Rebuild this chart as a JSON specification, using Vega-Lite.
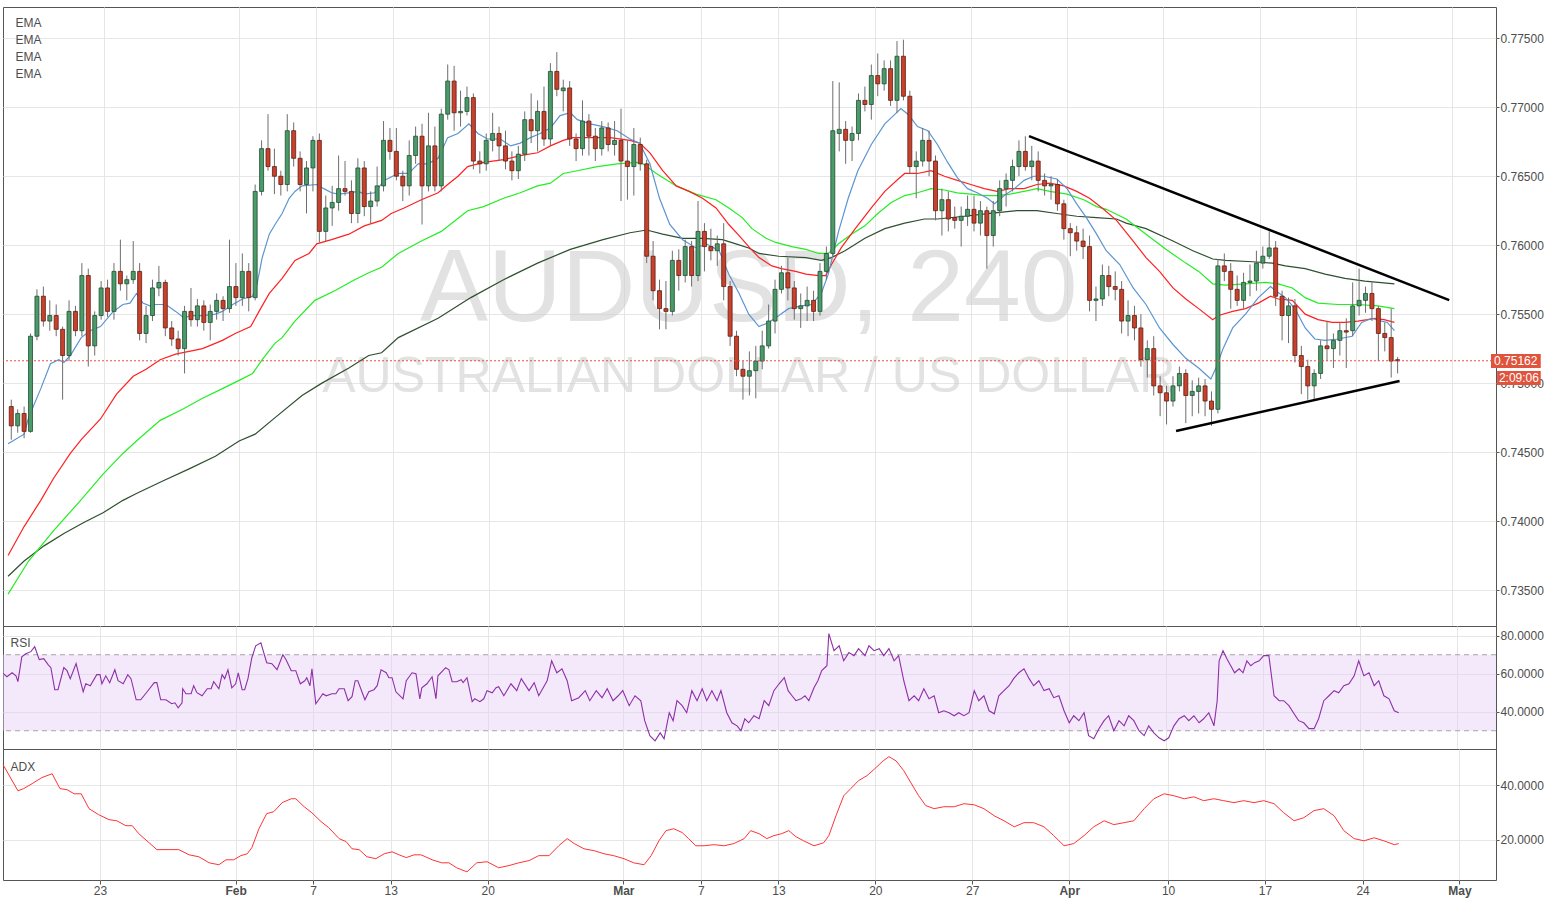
{
"$schema":"https://vega.github.io/schema/vega-lite/v6.json",
"padding":{"left":0,"top":6,"right":2,"bottom":2},
"background":"white",
"spacing":0,
"bounds":"flush",
"config":{"view":{"stroke":"#555555","strokeWidth":1},"font":"Liberation Sans","axis":{"labelFont":"Liberation Sans","labelFontSize":12,"labelColor":"#4d4d4d","gridColor":"#e6e6e6","gridWidth":1,"tickColor":"#555555","domain":false,"zindex":0,"labelOverlap":false,"labelFlush":false}},
"datasets":{
"candles":[
{"i":0,"o":0.7483,"h":0.7488,"l":0.7459,"c":0.7469},{"i":1,"o":0.7469,"h":0.7481,"l":0.7464,"c":0.7478},{"i":2,"o":0.7478,"h":0.7483,"l":0.746,"c":0.7465},{"i":3,"o":0.7465,"h":0.7536,"l":0.7464,"c":0.7534},{"i":4,"o":0.7534,"h":0.7568,"l":0.7531,"c":0.7563},{"i":5,"o":0.7563,"h":0.757,"l":0.7541,"c":0.7545},{"i":6,"o":0.7545,"h":0.756,"l":0.7538,"c":0.7549},{"i":7,"o":0.7549,"h":0.7557,"l":0.7534,"c":0.7539},{"i":8,"o":0.7539,"h":0.7541,"l":0.7488,"c":0.752},{"i":9,"o":0.752,"h":0.756,"l":0.7516,"c":0.7552},
{"i":10,"o":0.7552,"h":0.7556,"l":0.7534,"c":0.7538},{"i":11,"o":0.7538,"h":0.7587,"l":0.7534,"c":0.7578},{"i":12,"o":0.7578,"h":0.7583,"l":0.7512,"c":0.7527},{"i":13,"o":0.7527,"h":0.7552,"l":0.752,"c":0.7549},{"i":14,"o":0.7549,"h":0.7574,"l":0.7546,"c":0.7569},{"i":15,"o":0.7569,"h":0.7575,"l":0.7548,"c":0.7552},{"i":16,"o":0.7552,"h":0.7587,"l":0.7546,"c":0.7581},{"i":17,"o":0.7581,"h":0.7604,"l":0.7567,"c":0.7572},{"i":18,"o":0.7572,"h":0.7578,"l":0.756,"c":0.7575},{"i":19,"o":0.7575,"h":0.7603,"l":0.7572,"c":0.7581},
{"i":20,"o":0.7581,"h":0.7587,"l":0.7531,"c":0.7536},{"i":21,"o":0.7536,"h":0.7556,"l":0.7529,"c":0.7549},{"i":22,"o":0.7549,"h":0.7575,"l":0.7545,"c":0.7569},{"i":23,"o":0.7569,"h":0.7585,"l":0.7563,"c":0.7573},{"i":24,"o":0.7573,"h":0.7575,"l":0.7534,"c":0.754},{"i":25,"o":0.754,"h":0.7545,"l":0.7527,"c":0.7532},{"i":26,"o":0.7532,"h":0.7538,"l":0.752,"c":0.7525},{"i":27,"o":0.7525,"h":0.7556,"l":0.7507,"c":0.7552},{"i":28,"o":0.7552,"h":0.7569,"l":0.7541,"c":0.7546},{"i":29,"o":0.7546,"h":0.7561,"l":0.7541,"c":0.7556},
{"i":30,"o":0.7556,"h":0.756,"l":0.7538,"c":0.7544},{"i":31,"o":0.7544,"h":0.7557,"l":0.7531,"c":0.7552},{"i":32,"o":0.7552,"h":0.7565,"l":0.7546,"c":0.756},{"i":33,"o":0.756,"h":0.7563,"l":0.7545,"c":0.7554},{"i":34,"o":0.7554,"h":0.7604,"l":0.7551,"c":0.757},{"i":35,"o":0.757,"h":0.7587,"l":0.7556,"c":0.7562},{"i":36,"o":0.7562,"h":0.7594,"l":0.7556,"c":0.7581},{"i":37,"o":0.7581,"h":0.7587,"l":0.7552,"c":0.7562},{"i":38,"o":0.7562,"h":0.7644,"l":0.756,"c":0.7639},{"i":39,"o":0.7639,"h":0.7676,"l":0.7636,"c":0.767},
{"i":40,"o":0.767,"h":0.7695,"l":0.7654,"c":0.7657},{"i":41,"o":0.7657,"h":0.767,"l":0.7637,"c":0.765},{"i":42,"o":0.765,"h":0.7654,"l":0.7636,"c":0.7644},{"i":43,"o":0.7644,"h":0.7695,"l":0.7639,"c":0.7683},{"i":44,"o":0.7683,"h":0.7689,"l":0.7657,"c":0.7663},{"i":45,"o":0.7663,"h":0.7668,"l":0.7639,"c":0.7644},{"i":46,"o":0.7644,"h":0.7661,"l":0.7623,"c":0.7656},{"i":47,"o":0.7656,"h":0.7679,"l":0.7639,"c":0.7676},{"i":48,"o":0.7676,"h":0.7681,"l":0.7602,"c":0.761},{"i":49,"o":0.761,"h":0.7636,"l":0.7603,"c":0.7627},
{"i":50,"o":0.7627,"h":0.7643,"l":0.7614,"c":0.7631},{"i":51,"o":0.7631,"h":0.7665,"l":0.7625,"c":0.7641},{"i":52,"o":0.7641,"h":0.7661,"l":0.7636,"c":0.7639},{"i":53,"o":0.7639,"h":0.7647,"l":0.7616,"c":0.7623},{"i":54,"o":0.7623,"h":0.7663,"l":0.7616,"c":0.7656},{"i":55,"o":0.7656,"h":0.7661,"l":0.7621,"c":0.7628},{"i":56,"o":0.7628,"h":0.7639,"l":0.7616,"c":0.7632},{"i":57,"o":0.7632,"h":0.7657,"l":0.7628,"c":0.7643},{"i":58,"o":0.7643,"h":0.769,"l":0.7639,"c":0.7676},{"i":59,"o":0.7676,"h":0.7685,"l":0.7662,"c":0.7668},
{"i":60,"o":0.7668,"h":0.7685,"l":0.7647,"c":0.765},{"i":61,"o":0.765,"h":0.7654,"l":0.7632,"c":0.7643},{"i":62,"o":0.7643,"h":0.7676,"l":0.7636,"c":0.7665},{"i":63,"o":0.7665,"h":0.7686,"l":0.7659,"c":0.7679},{"i":64,"o":0.7679,"h":0.7688,"l":0.7615,"c":0.7643},{"i":65,"o":0.7643,"h":0.7696,"l":0.7639,"c":0.7672},{"i":66,"o":0.7672,"h":0.7686,"l":0.7639,"c":0.7643},{"i":67,"o":0.7643,"h":0.7699,"l":0.7639,"c":0.7695},{"i":68,"o":0.7695,"h":0.7731,"l":0.7691,"c":0.7719},{"i":69,"o":0.7719,"h":0.773,"l":0.7683,"c":0.7696},
{"i":70,"o":0.7696,"h":0.7712,"l":0.7686,"c":0.7697},{"i":71,"o":0.7697,"h":0.7715,"l":0.7694,"c":0.7707},{"i":72,"o":0.7707,"h":0.771,"l":0.7655,"c":0.7661},{"i":73,"o":0.7661,"h":0.7668,"l":0.7652,"c":0.7659},{"i":74,"o":0.7659,"h":0.7681,"l":0.7654,"c":0.7676},{"i":75,"o":0.7676,"h":0.7696,"l":0.7668,"c":0.7681},{"i":76,"o":0.7681,"h":0.7686,"l":0.7661,"c":0.7672},{"i":77,"o":0.7672,"h":0.7683,"l":0.7655,"c":0.7661},{"i":78,"o":0.7661,"h":0.7668,"l":0.7647,"c":0.7654},{"i":79,"o":0.7654,"h":0.7672,"l":0.7648,"c":0.7666},
{"i":80,"o":0.7666,"h":0.7697,"l":0.7661,"c":0.7691},{"i":81,"o":0.7691,"h":0.771,"l":0.7674,"c":0.7683},{"i":82,"o":0.7683,"h":0.7705,"l":0.7668,"c":0.7697},{"i":83,"o":0.7697,"h":0.7715,"l":0.7672,"c":0.7677},{"i":84,"o":0.7677,"h":0.7732,"l":0.7672,"c":0.7726},{"i":85,"o":0.7726,"h":0.774,"l":0.7708,"c":0.7713},{"i":86,"o":0.7712,"h":0.772,"l":0.7697,"c":0.7714},{"i":87,"o":0.7714,"h":0.7719,"l":0.7672,"c":0.7677},{"i":88,"o":0.7677,"h":0.7681,"l":0.7661,"c":0.767},{"i":89,"o":0.767,"h":0.7705,"l":0.7665,"c":0.769},
{"i":90,"o":0.769,"h":0.7695,"l":0.7665,"c":0.7679},{"i":91,"o":0.7679,"h":0.7685,"l":0.7661,"c":0.767},{"i":92,"o":0.767,"h":0.769,"l":0.7665,"c":0.7685},{"i":93,"o":0.7685,"h":0.7689,"l":0.7668,"c":0.7673},{"i":94,"o":0.7673,"h":0.769,"l":0.7665,"c":0.7676},{"i":95,"o":0.7676,"h":0.7699,"l":0.7632,"c":0.7661},{"i":96,"o":0.7661,"h":0.7676,"l":0.7633,"c":0.7657},{"i":97,"o":0.7657,"h":0.7685,"l":0.7636,"c":0.7673},{"i":98,"o":0.7673,"h":0.7678,"l":0.7654,"c":0.7659},{"i":99,"o":0.7659,"h":0.7662,"l":0.7587,"c":0.7592},
{"i":100,"o":0.7592,"h":0.7603,"l":0.756,"c":0.7567},{"i":101,"o":0.7567,"h":0.7575,"l":0.7539,"c":0.7554},{"i":102,"o":0.7554,"h":0.7574,"l":0.7539,"c":0.7552},{"i":103,"o":0.7552,"h":0.7596,"l":0.7549,"c":0.7589},{"i":104,"o":0.7589,"h":0.7597,"l":0.7567,"c":0.7578},{"i":105,"o":0.7578,"h":0.7604,"l":0.7573,"c":0.7599},{"i":106,"o":0.7599,"h":0.7603,"l":0.757,"c":0.7578},{"i":107,"o":0.7578,"h":0.7632,"l":0.7574,"c":0.761},{"i":108,"o":0.761,"h":0.7616,"l":0.7581,"c":0.7599},{"i":109,"o":0.7599,"h":0.7612,"l":0.7589,"c":0.7596},
{"i":110,"o":0.7596,"h":0.7607,"l":0.7585,"c":0.7601},{"i":111,"o":0.7601,"h":0.7616,"l":0.756,"c":0.757},{"i":112,"o":0.757,"h":0.7574,"l":0.7527,"c":0.7534},{"i":113,"o":0.7534,"h":0.7538,"l":0.7505,"c":0.751},{"i":114,"o":0.751,"h":0.7516,"l":0.7488,"c":0.7505},{"i":115,"o":0.7505,"h":0.7523,"l":0.7491,"c":0.7509},{"i":116,"o":0.7509,"h":0.7527,"l":0.7489,"c":0.7516},{"i":117,"o":0.7516,"h":0.7538,"l":0.751,"c":0.7527},{"i":118,"o":0.7527,"h":0.7557,"l":0.7525,"c":0.7545},{"i":119,"o":0.7545,"h":0.7575,"l":0.7536,"c":0.7568},
{"i":120,"o":0.7568,"h":0.7585,"l":0.7565,"c":0.758},{"i":121,"o":0.758,"h":0.7591,"l":0.756,"c":0.7569},{"i":122,"o":0.7569,"h":0.7574,"l":0.7546,"c":0.7554},{"i":123,"o":0.7554,"h":0.7565,"l":0.754,"c":0.7556},{"i":124,"o":0.7556,"h":0.757,"l":0.7545,"c":0.756},{"i":125,"o":0.756,"h":0.7567,"l":0.7545,"c":0.7552},{"i":126,"o":0.7552,"h":0.7587,"l":0.7549,"c":0.7581},{"i":127,"o":0.7581,"h":0.7599,"l":0.7575,"c":0.7594},{"i":128,"o":0.7594,"h":0.7719,"l":0.7592,"c":0.7683},{"i":129,"o":0.7681,"h":0.7718,"l":0.7668,"c":0.7684},
{"i":130,"o":0.7684,"h":0.769,"l":0.7659,"c":0.7676},{"i":131,"o":0.7676,"h":0.7686,"l":0.7661,"c":0.7681},{"i":132,"o":0.7681,"h":0.771,"l":0.7676,"c":0.7705},{"i":133,"o":0.7705,"h":0.7715,"l":0.7697,"c":0.7702},{"i":134,"o":0.7702,"h":0.7731,"l":0.7691,"c":0.7723},{"i":135,"o":0.7723,"h":0.7739,"l":0.7708,"c":0.7717},{"i":136,"o":0.7717,"h":0.7734,"l":0.7712,"c":0.7728},{"i":137,"o":0.7728,"h":0.7734,"l":0.7701,"c":0.7705},{"i":138,"o":0.7705,"h":0.7748,"l":0.7696,"c":0.7737},{"i":139,"o":0.7737,"h":0.7749,"l":0.7705,"c":0.7708},
{"i":140,"o":0.7708,"h":0.7712,"l":0.7652,"c":0.7657},{"i":141,"o":0.7657,"h":0.7668,"l":0.7634,"c":0.7661},{"i":142,"o":0.7661,"h":0.7685,"l":0.7657,"c":0.7676},{"i":143,"o":0.7676,"h":0.7683,"l":0.765,"c":0.7661},{"i":144,"o":0.7661,"h":0.7665,"l":0.7618,"c":0.7625},{"i":145,"o":0.7625,"h":0.7641,"l":0.7607,"c":0.7633},{"i":146,"o":0.7633,"h":0.7639,"l":0.761,"c":0.7619},{"i":147,"o":0.762,"h":0.7628,"l":0.7612,"c":0.7618},{"i":148,"o":0.7618,"h":0.7628,"l":0.7599,"c":0.7621},{"i":149,"o":0.7621,"h":0.7636,"l":0.7614,"c":0.7626},
{"i":150,"o":0.7626,"h":0.7636,"l":0.761,"c":0.7616},{"i":151,"o":0.7616,"h":0.7632,"l":0.7607,"c":0.7625},{"i":152,"o":0.7625,"h":0.7628,"l":0.7583,"c":0.7607},{"i":153,"o":0.7607,"h":0.7632,"l":0.7599,"c":0.7625},{"i":154,"o":0.7625,"h":0.7647,"l":0.7621,"c":0.7641},{"i":155,"o":0.7641,"h":0.7652,"l":0.7628,"c":0.7647},{"i":156,"o":0.7647,"h":0.7662,"l":0.7639,"c":0.7657},{"i":157,"o":0.7657,"h":0.7676,"l":0.765,"c":0.7668},{"i":158,"o":0.7668,"h":0.7679,"l":0.7654,"c":0.7657},{"i":159,"o":0.7657,"h":0.7672,"l":0.7647,"c":0.7661},
{"i":160,"o":0.7661,"h":0.7668,"l":0.7639,"c":0.7647},{"i":161,"o":0.7647,"h":0.7652,"l":0.7636,"c":0.7643},{"i":162,"o":0.7643,"h":0.765,"l":0.7633,"c":0.7644},{"i":163,"o":0.7644,"h":0.7648,"l":0.7625,"c":0.763},{"i":164,"o":0.763,"h":0.7633,"l":0.7604,"c":0.7612},{"i":165,"o":0.7612,"h":0.7616,"l":0.7592,"c":0.7609},{"i":166,"o":0.7609,"h":0.7614,"l":0.7596,"c":0.7603},{"i":167,"o":0.7603,"h":0.7612,"l":0.759,"c":0.7599},{"i":168,"o":0.7599,"h":0.7607,"l":0.7552,"c":0.756},{"i":169,"o":0.756,"h":0.757,"l":0.7545,"c":0.7561},
{"i":170,"o":0.7561,"h":0.7586,"l":0.7556,"c":0.7578},{"i":171,"o":0.7578,"h":0.7585,"l":0.7563,"c":0.757},{"i":172,"o":0.757,"h":0.7581,"l":0.756,"c":0.7568},{"i":173,"o":0.7568,"h":0.7574,"l":0.7536,"c":0.7545},{"i":174,"o":0.7545,"h":0.756,"l":0.7534,"c":0.7549},{"i":175,"o":0.7549,"h":0.7556,"l":0.7531,"c":0.754},{"i":176,"o":0.754,"h":0.755,"l":0.7512,"c":0.7517},{"i":177,"o":0.7517,"h":0.7531,"l":0.7504,"c":0.7525},{"i":178,"o":0.7525,"h":0.7534,"l":0.7491,"c":0.7498},{"i":179,"o":0.7498,"h":0.7505,"l":0.7476,"c":0.7493},
{"i":180,"o":0.7493,"h":0.7498,"l":0.747,"c":0.7487},{"i":181,"o":0.7487,"h":0.7505,"l":0.7483,"c":0.7498},{"i":182,"o":0.7498,"h":0.7512,"l":0.7494,"c":0.7507},{"i":183,"o":0.7507,"h":0.751,"l":0.7471,"c":0.7491},{"i":184,"o":0.7491,"h":0.7502,"l":0.7476,"c":0.7494},{"i":185,"o":0.7494,"h":0.7504,"l":0.7478,"c":0.7498},{"i":186,"o":0.7498,"h":0.7503,"l":0.7476,"c":0.7487},{"i":187,"o":0.7487,"h":0.7494,"l":0.7469,"c":0.7481},{"i":188,"o":0.7481,"h":0.759,"l":0.7478,"c":0.7585},{"i":189,"o":0.7585,"h":0.7594,"l":0.7574,"c":0.7581},
{"i":190,"o":0.7581,"h":0.7587,"l":0.7554,"c":0.7568},{"i":191,"o":0.7568,"h":0.7578,"l":0.7556,"c":0.756},{"i":192,"o":0.756,"h":0.758,"l":0.7554,"c":0.7573},{"i":193,"o":0.7573,"h":0.7586,"l":0.7563,"c":0.7574},{"i":194,"o":0.7574,"h":0.7596,"l":0.7567,"c":0.7587},{"i":195,"o":0.7587,"h":0.7599,"l":0.7583,"c":0.7592},{"i":196,"o":0.7592,"h":0.761,"l":0.759,"c":0.7598},{"i":197,"o":0.7598,"h":0.7603,"l":0.7556,"c":0.7563},{"i":198,"o":0.7563,"h":0.7567,"l":0.7531,"c":0.7549},{"i":199,"o":0.7549,"h":0.7562,"l":0.7529,"c":0.7556},
{"i":200,"o":0.7556,"h":0.7561,"l":0.7515,"c":0.752},{"i":201,"o":0.752,"h":0.7527,"l":0.7492,"c":0.7512},{"i":202,"o":0.7512,"h":0.7517,"l":0.7488,"c":0.7498},{"i":203,"o":0.7498,"h":0.751,"l":0.7488,"c":0.7507},{"i":204,"o":0.7507,"h":0.7531,"l":0.7503,"c":0.7527},{"i":205,"o":0.7527,"h":0.7545,"l":0.7516,"c":0.7525},{"i":206,"o":0.7525,"h":0.7536,"l":0.7511,"c":0.7531},{"i":207,"o":0.7531,"h":0.7544,"l":0.752,"c":0.7538},{"i":208,"o":0.7538,"h":0.7547,"l":0.7511,"c":0.7537},{"i":209,"o":0.7538,"h":0.7573,"l":0.7534,"c":0.7556},
{"i":210,"o":0.7556,"h":0.7583,"l":0.7549,"c":0.756},{"i":211,"o":0.756,"h":0.757,"l":0.7551,"c":0.7565},{"i":212,"o":0.7565,"h":0.7573,"l":0.7545,"c":0.7554},{"i":213,"o":0.7554,"h":0.7556,"l":0.7516,"c":0.7536},{"i":214,"o":0.7536,"h":0.7544,"l":0.7523,"c":0.7533},{"i":215,"o":0.7533,"h":0.7554,"l":0.7504,"c":0.7516},{"i":216,"o":0.7517,"h":0.7519,"l":0.7507,"c":0.75162}
],
"emaBlue":[{"i":-0.5,"p":0.7456},{"i":2,"p":0.7463},{"i":2.7,"p":0.7475},{"i":4.6,"p":0.7496},{"i":6.1,"p":0.7514},{"i":7.4,"p":0.7517},{"i":8.2,"p":0.7515},{"i":9.2,"p":0.752},{"i":10.9,"p":0.7533},{"i":12.3,"p":0.7538},{"i":13.9,"p":0.7541},{"i":15.9,"p":0.7552},{"i":17.4,"p":0.7557},{"i":18.5,"p":0.7558},{"i":19.5,"p":0.7565},{"i":20.5,"p":0.7558},{"i":21.6,"p":0.7556},{"i":22.5,"p":0.7557},{"i":24.1,"p":0.7557},{"i":25.6,"p":0.7552},{"i":27,"p":0.7547},{"i":27.8,"p":0.7549},{"i":29.8,"p":0.7549},{"i":31.8,"p":0.755},{"i":32.9,"p":0.7552},{"i":34.5,"p":0.7557},{"i":36,"p":0.7561},{"i":37.6,"p":0.7563},{"i":38.3,"p":0.7572},{"i":39.1,"p":0.7591},{"i":40.2,"p":0.7608},{"i":41.1,"p":0.7615},{"i":42.2,"p":0.7623},{"i":43.3,"p":0.7634},{"i":44.2,"p":0.7639},{"i":45.3,"p":0.7643},{"i":47.6,"p":0.7644},{"i":48.7,"p":0.7641},{"i":49.9,"p":0.7638},{"i":51,"p":0.7637},{"i":52.6,"p":0.7638},{"i":54.1,"p":0.7639},{"i":55,"p":0.7637},{"i":56.6,"p":0.7638},{"i":58.1,"p":0.7647},{"i":60.3,"p":0.7652},{"i":61.9,"p":0.7652},{"i":63.4,"p":0.7659},{"i":64.9,"p":0.7659},{"i":66.5,"p":0.7663},{"i":68,"p":0.7678},{"i":69.6,"p":0.7681},{"i":71.3,"p":0.7688},{"i":72.7,"p":0.7681},{"i":74.2,"p":0.7677},{"i":76.2,"p":0.7677},{"i":77.8,"p":0.7672},{"i":79.3,"p":0.7674},{"i":80.9,"p":0.7678},{"i":82.4,"p":0.7681},{"i":84,"p":0.7685},{"i":85.5,"p":0.7694},{"i":87.1,"p":0.7696},{"i":88.2,"p":0.7691},{"i":90.2,"p":0.7688},{"i":92.2,"p":0.7686},{"i":94.4,"p":0.7683},{"i":96.4,"p":0.7677},{"i":97.9,"p":0.7674},{"i":99.5,"p":0.7659},{"i":101,"p":0.7634},{"i":102.6,"p":0.7615},{"i":104.6,"p":0.7604},{"i":106.7,"p":0.7598},{"i":108.3,"p":0.7601},{"i":110.3,"p":0.7596},{"i":111.8,"p":0.7579},{"i":113.4,"p":0.7565},{"i":114.9,"p":0.755},{"i":116.5,"p":0.7541},{"i":118,"p":0.7544},{"i":119.6,"p":0.7549},{"i":121.1,"p":0.7554},{"i":123.1,"p":0.7556},{"i":124.7,"p":0.7557},{"i":126.2,"p":0.7565},{"i":127.3,"p":0.7579},{"i":128.9,"p":0.761},{"i":130.4,"p":0.7634},{"i":131.9,"p":0.7654},{"i":134,"p":0.7673},{"i":136.1,"p":0.7688},{"i":137.7,"p":0.7695},{"i":138.6,"p":0.7699},{"i":139.7,"p":0.7695},{"i":141.2,"p":0.7686},{"i":142.8,"p":0.7683},{"i":144.3,"p":0.7673},{"i":145.9,"p":0.766},{"i":147.4,"p":0.7649},{"i":149,"p":0.7641},{"i":150.5,"p":0.7638},{"i":152.1,"p":0.7634},{"i":153.2,"p":0.763},{"i":154.7,"p":0.7636},{"i":156.3,"p":0.7641},{"i":157.8,"p":0.7647},{"i":159.3,"p":0.765},{"i":160.9,"p":0.765},{"i":162.9,"p":0.7648},{"i":164.5,"p":0.7641},{"i":166,"p":0.763},{"i":167.5,"p":0.762},{"i":169.1,"p":0.7608},{"i":170.6,"p":0.7596},{"i":172.7,"p":0.7586},{"i":174.8,"p":0.7569},{"i":176.8,"p":0.7557},{"i":178.9,"p":0.754},{"i":181,"p":0.7528},{"i":183,"p":0.7518},{"i":185,"p":0.7511},{"i":186.9,"p":0.7503},{"i":187.7,"p":0.7511},{"i":188.8,"p":0.7525},{"i":190.3,"p":0.754},{"i":192.3,"p":0.755},{"i":194.3,"p":0.7562},{"i":196.2,"p":0.757},{"i":197,"p":0.7567},{"i":198.5,"p":0.7562},{"i":200,"p":0.7554},{"i":201.6,"p":0.754},{"i":203.1,"p":0.7532},{"i":204.7,"p":0.7531},{"i":206.7,"p":0.7532},{"i":208.9,"p":0.7534},{"i":210.4,"p":0.7544},{"i":212,"p":0.7547},{"i":213.5,"p":0.7545},{"i":214.4,"p":0.7544},{"i":215.5,"p":0.7538}],
"emaRed":[{"i":-0.5,"p":0.7375},{"i":2,"p":0.7396},{"i":4.6,"p":0.7415},{"i":6.6,"p":0.7431},{"i":9.2,"p":0.7449},{"i":10.9,"p":0.7459},{"i":13.9,"p":0.7474},{"i":16.4,"p":0.7492},{"i":19,"p":0.7505},{"i":21,"p":0.751},{"i":23.2,"p":0.7517},{"i":25.6,"p":0.7521},{"i":29.8,"p":0.7525},{"i":32.9,"p":0.7531},{"i":34.9,"p":0.7536},{"i":37.3,"p":0.7541},{"i":38.6,"p":0.7552},{"i":40.2,"p":0.7565},{"i":42.2,"p":0.7576},{"i":44.2,"p":0.7589},{"i":46.4,"p":0.7594},{"i":47.6,"p":0.7601},{"i":49.9,"p":0.7604},{"i":52.6,"p":0.7608},{"i":55,"p":0.7614},{"i":57.7,"p":0.7618},{"i":59.2,"p":0.7623},{"i":61.2,"p":0.7627},{"i":63.9,"p":0.7633},{"i":66.5,"p":0.7638},{"i":68,"p":0.7644},{"i":69.6,"p":0.765},{"i":71.1,"p":0.7657},{"i":73.6,"p":0.766},{"i":76.7,"p":0.7662},{"i":79.3,"p":0.7665},{"i":82,"p":0.7667},{"i":84,"p":0.7672},{"i":86,"p":0.7676},{"i":87.5,"p":0.7678},{"i":90.2,"p":0.7678},{"i":93.3,"p":0.7678},{"i":96.4,"p":0.7676},{"i":97.9,"p":0.7674},{"i":99.5,"p":0.7667},{"i":101.5,"p":0.7654},{"i":103.6,"p":0.7643},{"i":105.6,"p":0.7639},{"i":107.7,"p":0.7634},{"i":109.8,"p":0.7627},{"i":111.8,"p":0.7615},{"i":113.4,"p":0.7607},{"i":114.9,"p":0.7599},{"i":116.5,"p":0.7591},{"i":118.5,"p":0.7585},{"i":120,"p":0.7583},{"i":122.2,"p":0.7581},{"i":123.8,"p":0.7579},{"i":125.8,"p":0.7578},{"i":126.9,"p":0.7578},{"i":127.8,"p":0.7586},{"i":129.3,"p":0.7598},{"i":131.5,"p":0.7612},{"i":134,"p":0.7627},{"i":136.1,"p":0.7639},{"i":138.2,"p":0.7648},{"i":139.2,"p":0.7652},{"i":141.2,"p":0.7652},{"i":143.3,"p":0.7654},{"i":145.4,"p":0.765},{"i":147.4,"p":0.7647},{"i":149.5,"p":0.7644},{"i":151.6,"p":0.7641},{"i":153.6,"p":0.7639},{"i":155.6,"p":0.7641},{"i":157.8,"p":0.7641},{"i":159.8,"p":0.7644},{"i":161.8,"p":0.7645},{"i":164,"p":0.7643},{"i":166,"p":0.7639},{"i":168,"p":0.7634},{"i":170.2,"p":0.7626},{"i":172.2,"p":0.7618},{"i":174.8,"p":0.7603},{"i":176.8,"p":0.7591},{"i":178.9,"p":0.7581},{"i":181,"p":0.7569},{"i":183,"p":0.7561},{"i":185,"p":0.7554},{"i":187.2,"p":0.7546},{"i":188.1,"p":0.7549},{"i":190.3,"p":0.7552},{"i":192.3,"p":0.7554},{"i":194.3,"p":0.7558},{"i":196.2,"p":0.7563},{"i":197.4,"p":0.7561},{"i":199.6,"p":0.756},{"i":201.6,"p":0.755},{"i":203.6,"p":0.7546},{"i":205.8,"p":0.7544},{"i":207.8,"p":0.7544},{"i":209.8,"p":0.7545},{"i":211.3,"p":0.7546},{"i":212.4,"p":0.7547},{"i":213.9,"p":0.7546},{"i":215.5,"p":0.7544}],
"emaGreen":[{"i":-0.5,"p":0.7347},{"i":2.7,"p":0.7371},{"i":6.6,"p":0.7393},{"i":10.8,"p":0.7415},{"i":14.3,"p":0.7434},{"i":17.4,"p":0.7449},{"i":19.5,"p":0.7458},{"i":23.2,"p":0.7473},{"i":26.7,"p":0.7481},{"i":29.8,"p":0.7489},{"i":32.9,"p":0.7496},{"i":35.5,"p":0.7502},{"i":37.6,"p":0.7507},{"i":39.1,"p":0.7517},{"i":41.1,"p":0.7529},{"i":42.2,"p":0.7533},{"i":44.2,"p":0.7545},{"i":47.3,"p":0.756},{"i":50.4,"p":0.7567},{"i":53.5,"p":0.7575},{"i":55.7,"p":0.758},{"i":57.7,"p":0.7584},{"i":60.3,"p":0.7594},{"i":63.9,"p":0.7603},{"i":67,"p":0.761},{"i":71.1,"p":0.7625},{"i":73.6,"p":0.7628},{"i":76.7,"p":0.7634},{"i":79.3,"p":0.7638},{"i":82,"p":0.7643},{"i":84,"p":0.7645},{"i":86,"p":0.7652},{"i":88.2,"p":0.7654},{"i":91.3,"p":0.7657},{"i":94.4,"p":0.7659},{"i":97.4,"p":0.766},{"i":98.4,"p":0.7659},{"i":100.5,"p":0.7652},{"i":103.6,"p":0.7643},{"i":106.7,"p":0.7637},{"i":109.8,"p":0.7633},{"i":111.8,"p":0.7627},{"i":113.9,"p":0.762},{"i":115.4,"p":0.7612},{"i":117.6,"p":0.7605},{"i":119.1,"p":0.7602},{"i":121.6,"p":0.7599},{"i":123.8,"p":0.7597},{"i":125.8,"p":0.7594},{"i":127.3,"p":0.7594},{"i":128.9,"p":0.7601},{"i":130.9,"p":0.7608},{"i":133,"p":0.7614},{"i":135,"p":0.7623},{"i":137.1,"p":0.7631},{"i":139.2,"p":0.7636},{"i":141.2,"p":0.7638},{"i":143.3,"p":0.7641},{"i":145.4,"p":0.764},{"i":147.4,"p":0.7638},{"i":149.5,"p":0.7637},{"i":151.6,"p":0.7636},{"i":153.6,"p":0.7636},{"i":155.6,"p":0.7637},{"i":157.8,"p":0.7639},{"i":159.8,"p":0.7641},{"i":161.8,"p":0.7639},{"i":164.5,"p":0.7637},{"i":167.1,"p":0.7633},{"i":169.1,"p":0.7628},{"i":170.6,"p":0.7626},{"i":173.7,"p":0.7619},{"i":176.8,"p":0.7608},{"i":179.9,"p":0.7597},{"i":183,"p":0.7587},{"i":185,"p":0.7581},{"i":187.2,"p":0.7572},{"i":189.2,"p":0.7571},{"i":192.3,"p":0.7572},{"i":195.4,"p":0.7573},{"i":197.4,"p":0.7572},{"i":199.6,"p":0.7569},{"i":201.6,"p":0.7562},{"i":203.6,"p":0.7558},{"i":206.7,"p":0.7557},{"i":209.8,"p":0.7557},{"i":212.9,"p":0.7556},{"i":215.5,"p":0.7554}],
"emaDark":[{"i":-0.5,"p":0.736},{"i":2,"p":0.7371},{"i":5.1,"p":0.7382},{"i":8.2,"p":0.7391},{"i":11.3,"p":0.7399},{"i":14.3,"p":0.7406},{"i":17.4,"p":0.7415},{"i":19.5,"p":0.742},{"i":23.6,"p":0.7429},{"i":27.8,"p":0.7438},{"i":31.8,"p":0.7447},{"i":35.5,"p":0.7458},{"i":38,"p":0.7463},{"i":41.1,"p":0.7475},{"i":45.3,"p":0.7491},{"i":48.4,"p":0.75},{"i":52.6,"p":0.7511},{"i":55.7,"p":0.752},{"i":57.7,"p":0.7522},{"i":60.3,"p":0.7533},{"i":66.5,"p":0.7547},{"i":71.6,"p":0.7562},{"i":76.7,"p":0.7575},{"i":82,"p":0.7587},{"i":87.1,"p":0.7597},{"i":92.2,"p":0.7604},{"i":96.4,"p":0.7609},{"i":99,"p":0.7611},{"i":101.5,"p":0.7608},{"i":104.6,"p":0.7605},{"i":107.7,"p":0.7605},{"i":110.8,"p":0.7604},{"i":112.9,"p":0.7601},{"i":114.9,"p":0.7598},{"i":116.5,"p":0.7594},{"i":119.6,"p":0.7592},{"i":123.8,"p":0.7591},{"i":126.2,"p":0.7589},{"i":127.8,"p":0.7591},{"i":129.9,"p":0.7596},{"i":133,"p":0.7605},{"i":136.1,"p":0.7612},{"i":139.2,"p":0.7616},{"i":142.3,"p":0.7619},{"i":144.3,"p":0.7619},{"i":148.5,"p":0.7621},{"i":152.5,"p":0.7623},{"i":156.7,"p":0.7625},{"i":159.8,"p":0.7625},{"i":162.9,"p":0.7623},{"i":166,"p":0.7621},{"i":169.1,"p":0.762},{"i":172.2,"p":0.7619},{"i":173.7,"p":0.7616},{"i":176.8,"p":0.7612},{"i":181,"p":0.7603},{"i":184.1,"p":0.7596},{"i":187.2,"p":0.759},{"i":189.2,"p":0.7589},{"i":193.4,"p":0.7588},{"i":196.5,"p":0.7587},{"i":198.5,"p":0.7585},{"i":201.6,"p":0.7583},{"i":204.7,"p":0.7579},{"i":207.8,"p":0.7576},{"i":210.9,"p":0.7574},{"i":215.5,"p":0.7572}],
"rsi":[{"i":-0.5,"v":60.2},{"i":0.1,"v":58.4},{"i":0.9,"v":60.5},{"i":1.5,"v":58.9},{"i":1.8,"v":55.8},{"i":2.4,"v":68.9},{"i":3,"v":70.5},{"i":3.8,"v":71.6},{"i":4.4,"v":74.2},{"i":5.1,"v":67.4},{"i":5.8,"v":67.9},{"i":6.5,"v":64.7},{"i":6.9,"v":63.2},{"i":7.5,"v":51.6},{"i":8,"v":51.6},{"i":8.9,"v":63.2},{"i":9.4,"v":61.6},{"i":9.9,"v":57.4},{"i":10.8,"v":65.3},{"i":11.9,"v":50.5},{"i":12.3,"v":54.7},{"i":13,"v":53.7},{"i":14,"v":59.5},{"i":14.5,"v":59.5},{"i":14.8,"v":54.7},{"i":15.4,"v":58.9},{"i":16,"v":55.3},{"i":16.8,"v":62.1},{"i":17.3,"v":56.3},{"i":18.1,"v":54.7},{"i":18.8,"v":59.5},{"i":19.3,"v":57.4},{"i":20.1,"v":46.3},{"i":20.8,"v":46.3},{"i":21.8,"v":50.5},{"i":22.9,"v":55.3},{"i":23.3,"v":55.3},{"i":23.9,"v":46.3},{"i":24.7,"v":46.3},{"i":25.6,"v":44.2},{"i":26.1,"v":44.7},{"i":26.6,"v":42.1},{"i":27.2,"v":44.7},{"i":27.3,"v":52.1},{"i":27.8,"v":49.5},{"i":28.6,"v":49.5},{"i":29,"v":53.7},{"i":29.5,"v":50},{"i":30.3,"v":48.4},{"i":31.1,"v":52.1},{"i":31.7,"v":52.1},{"i":32.1,"v":55.8},{"i":32.9,"v":52.1},{"i":33.4,"v":59.5},{"i":33.8,"v":57.4},{"i":34.3,"v":62.1},{"i":34.9,"v":52.6},{"i":35.5,"v":54.7},{"i":35.9,"v":60.5},{"i":36.5,"v":51.6},{"i":36.9,"v":51.6},{"i":37.4,"v":57.4},{"i":38,"v":68.4},{"i":38.6,"v":74.7},{"i":39.4,"v":76.3},{"i":40.3,"v":65.8},{"i":41.1,"v":65.3},{"i":41.9,"v":62.1},{"i":42.8,"v":70},{"i":43.3,"v":67.4},{"i":44.1,"v":61.6},{"i":44.8,"v":61.6},{"i":45.5,"v":54.7},{"i":46.2,"v":56.3},{"i":46.5,"v":57.9},{"i":47,"v":53.7},{"i":47.3,"v":62.6},{"i":47.9,"v":44.2},{"i":49,"v":49.5},{"i":49.5,"v":48.4},{"i":50.4,"v":49.5},{"i":51,"v":49.5},{"i":51.5,"v":52.1},{"i":52.3,"v":52.1},{"i":52.9,"v":45.8},{"i":53.5,"v":47.9},{"i":54,"v":56.3},{"i":54.4,"v":56.3},{"i":55.5,"v":46.3},{"i":56.1,"v":50.5},{"i":56.9,"v":51.6},{"i":57.4,"v":53.7},{"i":58,"v":62.1},{"i":58.8,"v":60.5},{"i":59.2,"v":57.9},{"i":59.7,"v":57.9},{"i":60.3,"v":50.5},{"i":61.4,"v":46.8},{"i":61.9,"v":56.3},{"i":62.8,"v":60.5},{"i":63.4,"v":60},{"i":64,"v":46.8},{"i":64.3,"v":52.6},{"i":65.1,"v":54.7},{"i":65.9,"v":58.4},{"i":66.5,"v":46.8},{"i":66.8,"v":58.9},{"i":68,"v":63.2},{"i":68.5,"v":62.1},{"i":69,"v":55.8},{"i":69.7,"v":55.8},{"i":70.4,"v":56.8},{"i":70.7,"v":55.3},{"i":71.3,"v":57.9},{"i":72.1,"v":45.3},{"i":72.5,"v":46.8},{"i":73.3,"v":45.3},{"i":73.9,"v":46.8},{"i":74.4,"v":51.1},{"i":75.2,"v":50},{"i":75.8,"v":52.6},{"i":76.2,"v":53.2},{"i":77,"v":48.4},{"i":78.1,"v":54.7},{"i":79,"v":51.1},{"i":79.7,"v":57.4},{"i":80.9,"v":51.1},{"i":81.7,"v":55.3},{"i":82.4,"v":48.4},{"i":83.7,"v":56.3},{"i":84.4,"v":66.8},{"i":85.2,"v":60.5},{"i":86,"v":62.6},{"i":86.8,"v":56.3},{"i":87.5,"v":45.8},{"i":88.6,"v":47.4},{"i":89.6,"v":51.1},{"i":90.3,"v":45.8},{"i":91.3,"v":51.1},{"i":92.2,"v":47.4},{"i":93,"v":52.1},{"i":93.9,"v":45.8},{"i":94.7,"v":48.4},{"i":95.4,"v":51.1},{"i":96.4,"v":43.2},{"i":97.3,"v":48.4},{"i":98.2,"v":45.8},{"i":98.8,"v":35.3},{"i":99.6,"v":27.4},{"i":100.4,"v":24.7},{"i":101.2,"v":28.9},{"i":101.8,"v":25.8},{"i":102.6,"v":39.5},{"i":103.2,"v":35.3},{"i":103.8,"v":45.8},{"i":104.6,"v":43.2},{"i":105.3,"v":39.5},{"i":106.1,"v":51.1},{"i":106.9,"v":45.8},{"i":107.7,"v":52.1},{"i":108.4,"v":45.8},{"i":109.2,"v":51.1},{"i":110,"v":45.8},{"i":110.6,"v":51.1},{"i":111.5,"v":39.5},{"i":112.3,"v":34.2},{"i":113.1,"v":32.6},{"i":113.7,"v":30},{"i":114.3,"v":36.3},{"i":114.9,"v":34.2},{"i":115.7,"v":37.9},{"i":116.5,"v":36.3},{"i":117.3,"v":45.8},{"i":118,"v":43.2},{"i":118.8,"v":51.1},{"i":119.6,"v":54.7},{"i":120.4,"v":57.9},{"i":121,"v":51.1},{"i":121.6,"v":48.4},{"i":122.2,"v":45.8},{"i":123,"v":46.8},{"i":123.6,"v":48.4},{"i":124.2,"v":45.8},{"i":125,"v":52.6},{"i":125.6,"v":56.3},{"i":126.2,"v":61.6},{"i":127,"v":64.2},{"i":127.3,"v":81.1},{"i":128.1,"v":72.1},{"i":128.9,"v":74.7},{"i":129.6,"v":66.8},{"i":130.4,"v":71.1},{"i":131.2,"v":69.5},{"i":131.9,"v":73.2},{"i":132.9,"v":69.5},{"i":133.5,"v":74.7},{"i":134.3,"v":72.1},{"i":135.1,"v":73.2},{"i":135.8,"v":69.5},{"i":136.6,"v":73.2},{"i":137.4,"v":66.8},{"i":138.1,"v":69.5},{"i":138.9,"v":56.3},{"i":139.7,"v":45.8},{"i":140.5,"v":48.4},{"i":141.2,"v":45.8},{"i":142,"v":52.1},{"i":142.8,"v":46.8},{"i":143.6,"v":48.4},{"i":144.3,"v":39.5},{"i":145.1,"v":40.5},{"i":145.9,"v":39.5},{"i":146.7,"v":37.9},{"i":147.4,"v":39.5},{"i":148.2,"v":37.9},{"i":149,"v":39.5},{"i":149.8,"v":51.1},{"i":150.5,"v":45.8},{"i":151.3,"v":48.4},{"i":152.1,"v":40.5},{"i":152.9,"v":38.9},{"i":153.6,"v":48.4},{"i":154.4,"v":51.1},{"i":155.2,"v":53.7},{"i":155.9,"v":57.4},{"i":156.7,"v":60.5},{"i":157.5,"v":62.6},{"i":158.3,"v":57.4},{"i":159,"v":53.7},{"i":159.8,"v":56.3},{"i":160.6,"v":51.1},{"i":161.4,"v":52.1},{"i":162.1,"v":47.4},{"i":162.9,"v":48.4},{"i":163.7,"v":40.5},{"i":164.5,"v":34.2},{"i":165.2,"v":37.9},{"i":166,"v":35.3},{"i":166.8,"v":39.5},{"i":167.5,"v":27.4},{"i":168.3,"v":25.8},{"i":169.1,"v":31.1},{"i":169.9,"v":35.3},{"i":170.6,"v":37.9},{"i":171.4,"v":30},{"i":172.2,"v":35.3},{"i":173,"v":32.6},{"i":173.7,"v":37.9},{"i":174.5,"v":35.3},{"i":175.3,"v":30},{"i":176.1,"v":27.4},{"i":176.8,"v":32.6},{"i":177.6,"v":28.9},{"i":178.4,"v":26.3},{"i":179.2,"v":24.7},{"i":179.9,"v":26.3},{"i":180.7,"v":32.6},{"i":181.5,"v":36.3},{"i":182.3,"v":37.9},{"i":183,"v":35.3},{"i":183.8,"v":37.9},{"i":184.6,"v":34.2},{"i":185.3,"v":36.3},{"i":186.1,"v":39.5},{"i":186.9,"v":32.6},{"i":187.4,"v":45.8},{"i":187.7,"v":66.8},{"i":188.3,"v":72.1},{"i":188.9,"v":67.9},{"i":189.5,"v":64.2},{"i":190.1,"v":60.5},{"i":190.8,"v":62.6},{"i":191.4,"v":60.5},{"i":192,"v":66.8},{"i":192.6,"v":64.2},{"i":193.2,"v":65.8},{"i":193.9,"v":66.8},{"i":194.6,"v":69.5},{"i":195.4,"v":69.5},{"i":196.2,"v":48.4},{"i":197,"v":45.8},{"i":197.7,"v":45.8},{"i":198.5,"v":43.2},{"i":199.3,"v":38.9},{"i":200,"v":35.3},{"i":200.8,"v":34.2},{"i":201.6,"v":31.1},{"i":202.4,"v":31.1},{"i":203.1,"v":36.3},{"i":203.9,"v":45.8},{"i":204.7,"v":48.4},{"i":205.5,"v":51.1},{"i":206.2,"v":50},{"i":207,"v":53.7},{"i":207.8,"v":54.7},{"i":208.6,"v":58.9},{"i":209.3,"v":66.8},{"i":210.1,"v":58.9},{"i":210.9,"v":60.5},{"i":211.7,"v":53.7},{"i":212.4,"v":56.3},{"i":213.2,"v":48.4},{"i":214,"v":46.8},{"i":214.8,"v":40.5},{"i":215.5,"v":39.5}],
"adx":[{"i":-0.5,"v":47.4},{"i":1.8,"v":37.9},{"i":2.7,"v":38.7},{"i":4,"v":40.5},{"i":5.5,"v":42.7},{"i":7.1,"v":44.1},{"i":8.3,"v":38.7},{"i":9.4,"v":38.3},{"i":10.5,"v":36.8},{"i":11.6,"v":36.8},{"i":12.8,"v":31.4},{"i":14.3,"v":29.2},{"i":15.9,"v":27.4},{"i":17.1,"v":27},{"i":18.5,"v":25.2},{"i":19.5,"v":25.2},{"i":20.5,"v":22.3},{"i":22.1,"v":19},{"i":23.3,"v":16.5},{"i":25.2,"v":16.5},{"i":26.7,"v":16.5},{"i":28.3,"v":14.6},{"i":29.8,"v":13.9},{"i":31.4,"v":11.7},{"i":32.9,"v":11},{"i":34,"v":12.8},{"i":35.2,"v":12.8},{"i":36.3,"v":14.3},{"i":37.3,"v":15},{"i":38,"v":17.2},{"i":39.1,"v":24.1},{"i":40.3,"v":29.6},{"i":41.4,"v":30.3},{"i":42.7,"v":33.6},{"i":44.1,"v":35},{"i":44.8,"v":35},{"i":46.1,"v":32.1},{"i":47.3,"v":29.9},{"i":48.7,"v":26.7},{"i":49.9,"v":24.5},{"i":51.5,"v":20.5},{"i":52.6,"v":19.4},{"i":53.5,"v":16.8},{"i":54.6,"v":16.5},{"i":55.8,"v":13.9},{"i":57.2,"v":13.2},{"i":58.5,"v":15},{"i":59.7,"v":15.7},{"i":60.8,"v":14.6},{"i":61.9,"v":13.6},{"i":63.1,"v":14.6},{"i":64.2,"v":14.6},{"i":65.9,"v":12.8},{"i":67.4,"v":11.7},{"i":68.5,"v":11.7},{"i":69.7,"v":9.9},{"i":71.3,"v":8.4},{"i":72.8,"v":11.7},{"i":74.4,"v":12.1},{"i":76.2,"v":9.9},{"i":77.8,"v":10.7},{"i":79.3,"v":11.7},{"i":80.9,"v":12.5},{"i":82.4,"v":14.3},{"i":84,"v":14.3},{"i":85.5,"v":17.9},{"i":86.8,"v":20.5},{"i":87.9,"v":18.7},{"i":89.4,"v":16.8},{"i":91,"v":16.1},{"i":92.5,"v":15},{"i":94,"v":14.3},{"i":95.6,"v":13.2},{"i":97.1,"v":11.7},{"i":98.7,"v":11},{"i":99.8,"v":14.3},{"i":101,"v":19.7},{"i":102.1,"v":23.4},{"i":103.3,"v":24.1},{"i":104.6,"v":22.7},{"i":105.6,"v":20.5},{"i":106.7,"v":17.9},{"i":108,"v":17.9},{"i":109.5,"v":18.3},{"i":111.1,"v":17.9},{"i":112.6,"v":18.7},{"i":114.2,"v":20.5},{"i":115.2,"v":23.4},{"i":116.5,"v":22.3},{"i":117.7,"v":20.5},{"i":118.8,"v":21.6},{"i":120,"v":22.3},{"i":121.1,"v":23.4},{"i":122.2,"v":21.2},{"i":123.4,"v":19.7},{"i":125,"v":17.9},{"i":126.5,"v":19},{"i":127.3,"v":21.6},{"i":128.4,"v":28.8},{"i":129.6,"v":36.1},{"i":130.7,"v":38.7},{"i":131.9,"v":41.6},{"i":133.2,"v":43.4},{"i":134.4,"v":45.9},{"i":135.7,"v":48.8},{"i":136.6,"v":50.3},{"i":137.7,"v":48.8},{"i":138.9,"v":45.2},{"i":140,"v":40.8},{"i":141.2,"v":36.1},{"i":142.3,"v":32.5},{"i":143.6,"v":31.4},{"i":145.1,"v":32.1},{"i":146.7,"v":32.1},{"i":148.2,"v":33.2},{"i":149.8,"v":32.8},{"i":151.3,"v":31.4},{"i":152.9,"v":28.8},{"i":154.4,"v":27},{"i":156,"v":24.8},{"i":157.5,"v":26.3},{"i":159,"v":26.3},{"i":160.6,"v":24.8},{"i":162.1,"v":21.6},{"i":163.7,"v":17.9},{"i":165.2,"v":18.7},{"i":166.8,"v":21.6},{"i":168.3,"v":24.8},{"i":169.9,"v":27},{"i":171.4,"v":25.6},{"i":173,"v":26.3},{"i":174.5,"v":27},{"i":176.1,"v":31.4},{"i":177.6,"v":35},{"i":179.2,"v":36.8},{"i":180.7,"v":36.1},{"i":182.3,"v":35},{"i":183.8,"v":35.7},{"i":185.3,"v":34.3},{"i":186.9,"v":35},{"i":188.4,"v":34.3},{"i":190,"v":33.6},{"i":191.5,"v":34.3},{"i":193.1,"v":33.6},{"i":194.6,"v":34.3},{"i":196.2,"v":33.2},{"i":197.7,"v":29.9},{"i":199.3,"v":27},{"i":200.8,"v":28.1},{"i":202.4,"v":30.7},{"i":203.9,"v":31.4},{"i":205.5,"v":28.8},{"i":207,"v":23.4},{"i":208.6,"v":20.5},{"i":210.1,"v":19.7},{"i":211.7,"v":20.8},{"i":213.2,"v":19.7},{"i":214.8,"v":18.3},{"i":215.5,"v":18.7}],
"one":[{"k":1}]
},
"vconcat":[
{"width":1493,"height":619,
"layer":[
{"data":{"name":"one"},"mark":{"type":"text","font":"Liberation Sans","fontSize":102,"fill":"#cfcfcf","opacity":0.6,"align":"center","baseline":"alphabetic"},
"encoding":{"x":{"datum":114.9,"type":"quantitative","title":null,"scale":{"domain":[-0.51,230.55],"nice":false,"zero":false},"axis":{"values":[14.5,35.5,47.5,59.5,74.5,95.5,107.5,119.5,134.5,149.5,164.5,179.5,194.5,209.5,224.5],"labels":false,"ticks":false,"tickSize":0,"labelPadding":0,"minExtent":0,"maxExtent":0,"grid":true}},
"y":{"datum":0.7545,"type":"quantitative","title":null,"scale":{"domain":[0.73239,0.77727],"nice":false,"zero":false},"axis":{"orient":"right","values":[0.735,0.74,0.745,0.75,0.755,0.76,0.765,0.77,0.775],"format":".5f","grid":true,"tickSize":3,"labelPadding":1}},
"text":{"value":"AUDUSD, 240"}}},
{"data":{"name":"one"},"mark":{"type":"text","font":"Liberation Sans","fontSize":50,"fill":"#cfcfcf","opacity":0.6,"align":"center","baseline":"alphabetic"},
"encoding":{"x":{"datum":114.9,"type":"quantitative","title":null,"scale":{"domain":[-0.51,230.55],"nice":false,"zero":false}},"y":{"datum":0.74935,"type":"quantitative","title":null,"scale":{"domain":[0.73239,0.77727],"nice":false,"zero":false}},"text":{"value":"AUSTRALIAN DOLLAR / US DOLLAR"}}},
{"data":{"name":"emaDark"},"mark":{"type":"line","stroke":"#2f4f2f","strokeWidth":1.2},
"encoding":{"x":{"field":"i","type":"quantitative","title":null,"scale":{"domain":[-0.51,230.55],"nice":false,"zero":false}},"y":{"field":"p","type":"quantitative","title":null,"scale":{"domain":[0.73239,0.77727],"nice":false,"zero":false}}}},
{"data":{"name":"emaGreen"},"mark":{"type":"line","stroke":"#22ee22","strokeWidth":1.2},
"encoding":{"x":{"field":"i","type":"quantitative","title":null,"scale":{"domain":[-0.51,230.55],"nice":false,"zero":false}},"y":{"field":"p","type":"quantitative","title":null,"scale":{"domain":[0.73239,0.77727],"nice":false,"zero":false}}}},
{"data":{"name":"emaRed"},"mark":{"type":"line","stroke":"#ff2020","strokeWidth":1.2},
"encoding":{"x":{"field":"i","type":"quantitative","title":null,"scale":{"domain":[-0.51,230.55],"nice":false,"zero":false}},"y":{"field":"p","type":"quantitative","title":null,"scale":{"domain":[0.73239,0.77727],"nice":false,"zero":false}}}},
{"data":{"name":"emaBlue"},"mark":{"type":"line","stroke":"#5b95d0","strokeWidth":1.2},
"encoding":{"x":{"field":"i","type":"quantitative","title":null,"scale":{"domain":[-0.51,230.55],"nice":false,"zero":false}},"y":{"field":"p","type":"quantitative","title":null,"scale":{"domain":[0.73239,0.77727],"nice":false,"zero":false}}}},
{"data":{"name":"candles"},"mark":{"type":"rule","stroke":"#6e6e6e","strokeWidth":1},
"encoding":{"x":{"field":"i","type":"quantitative","title":null,"scale":{"domain":[-0.51,230.55],"nice":false,"zero":false}},"y":{"field":"l","type":"quantitative","title":null,"scale":{"domain":[0.73239,0.77727],"nice":false,"zero":false}},"y2":{"field":"h"}}},
{"data":{"name":"candles"},"mark":{"type":"bar","width":4,"strokeWidth":0.8},
"encoding":{"x":{"field":"i","type":"quantitative","title":null,"scale":{"domain":[-0.51,230.55],"nice":false,"zero":false}},"y":{"field":"o","type":"quantitative","title":null,"scale":{"domain":[0.73239,0.77727],"nice":false,"zero":false}},"y2":{"field":"c"},
"fill":{"condition":{"test":"datum.c < datum.o","value":"#c8412c"},"value":"#4b9a6a"},
"stroke":{"condition":{"test":"datum.c < datum.o","value":"#5e1d12"},"value":"#1f4d30"}}},
{"data":{"values":[{"i":158.57,"p":0.76791},{"i":224.04,"p":0.75602}]},"mark":{"type":"line","stroke":"#000000","strokeWidth":2.5},
"encoding":{"x":{"field":"i","type":"quantitative","title":null,"scale":{"domain":[-0.51,230.55],"nice":false,"zero":false}},"y":{"field":"p","type":"quantitative","title":null,"scale":{"domain":[0.73239,0.77727],"nice":false,"zero":false}}}},
{"data":{"values":[{"i":181.48,"p":0.74653},{"i":216.3,"p":0.75015}]},"mark":{"type":"line","stroke":"#000000","strokeWidth":2.5},
"encoding":{"x":{"field":"i","type":"quantitative","title":null,"scale":{"domain":[-0.51,230.55],"nice":false,"zero":false}},"y":{"field":"p","type":"quantitative","title":null,"scale":{"domain":[0.73239,0.77727],"nice":false,"zero":false}}}},
{"data":{"name":"one"},"mark":{"type":"rule","stroke":"#e0533d","strokeWidth":1,"strokeDash":[2,2]},
"encoding":{"y":{"datum":0.75162,"type":"quantitative","title":null,"scale":{"domain":[0.73239,0.77727],"nice":false,"zero":false}}}},
{"data":{"name":"one"},"mark":{"type":"rect","fill":"#e0533d"},
"encoding":{"x":{"datum":230.55,"type":"quantitative","title":null,"scale":{"domain":[-0.51,230.55],"nice":false,"zero":false}},"x2":{"datum":238.3},"y":{"datum":0.75211,"type":"quantitative","title":null,"scale":{"domain":[0.73239,0.77727],"nice":false,"zero":false}},"y2":{"datum":0.75109}}},
{"data":{"name":"one"},"mark":{"type":"text","font":"Liberation Sans","fontSize":12,"fill":"#ffffff","align":"center","baseline":"middle"},
"encoding":{"x":{"datum":234.4,"type":"quantitative","title":null,"scale":{"domain":[-0.51,230.55],"nice":false,"zero":false}},"y":{"datum":0.7516,"type":"quantitative","title":null,"scale":{"domain":[0.73239,0.77727],"nice":false,"zero":false}},"text":{"value":"0.75162"}}},
{"data":{"name":"one"},"mark":{"type":"rect","fill":"#e0533d"},
"encoding":{"x":{"datum":231.5,"type":"quantitative","title":null,"scale":{"domain":[-0.51,230.55],"nice":false,"zero":false}},"x2":{"datum":238.3},"y":{"datum":0.75088,"type":"quantitative","title":null,"scale":{"domain":[0.73239,0.77727],"nice":false,"zero":false}},"y2":{"datum":0.74986}}},
{"data":{"name":"one"},"mark":{"type":"text","font":"Liberation Sans","fontSize":12,"fill":"#ffffff","align":"center","baseline":"middle"},
"encoding":{"x":{"datum":234.9,"type":"quantitative","title":null,"scale":{"domain":[-0.51,230.55],"nice":false,"zero":false}},"y":{"datum":0.75037,"type":"quantitative","title":null,"scale":{"domain":[0.73239,0.77727],"nice":false,"zero":false}},"text":{"value":"2:09:06"}}},
{"data":{"name":"one"},"mark":{"type":"text","font":"Liberation Sans","fontSize":12,"fill":"#4d4d4d","align":"left","baseline":"top","lineHeight":17},
"encoding":{"x":{"datum":0.65,"type":"quantitative","title":null,"scale":{"domain":[-0.51,230.55],"nice":false,"zero":false}},"y":{"datum":0.77647,"type":"quantitative","title":null,"scale":{"domain":[0.73239,0.77727],"nice":false,"zero":false}},"text":{"value":["EMA","EMA","EMA","EMA"]}}}
]},
{"width":1493,"height":123,
"layer":[
{"data":{"name":"one"},"mark":{"type":"rect","fill":"#e6cdf7","opacity":0.45},
"encoding":{"x":{"datum":-0.51,"type":"quantitative","title":null,"scale":{"domain":[-0.51,230.55],"nice":false,"zero":false},"axis":{"values":[14.5,35.5,47.5,59.5,74.5,95.5,107.5,119.5,134.5,149.5,164.5,179.5,194.5,209.5,224.5],"labels":false,"ticks":false,"tickSize":0,"labelPadding":0,"minExtent":0,"maxExtent":0,"grid":true}},"x2":{"datum":230.55},
"y":{"datum":30,"type":"quantitative","title":null,"scale":{"domain":[20.4,85.1],"nice":false,"zero":false},"axis":{"orient":"right","values":[40,60,80],"format":".4f","grid":true,"tickSize":3,"labelPadding":1}},"y2":{"datum":70}}},
{"data":{"values":[{"v":30},{"v":70}]},"mark":{"type":"rule","stroke":"#a9a3ad","strokeWidth":1,"strokeDash":[5,4]},
"encoding":{"y":{"field":"v","type":"quantitative","title":null,"scale":{"domain":[20.4,85.1],"nice":false,"zero":false}}}},
{"data":{"name":"rsi"},"mark":{"type":"line","stroke":"#8e30a8","strokeWidth":1.1},
"encoding":{"x":{"field":"i","type":"quantitative","title":null,"scale":{"domain":[-0.51,230.55],"nice":false,"zero":false}},"y":{"field":"v","type":"quantitative","title":null,"scale":{"domain":[20.4,85.1],"nice":false,"zero":false}}}},
{"data":{"name":"one"},"mark":{"type":"text","font":"Liberation Sans","fontSize":12,"fill":"#4d4d4d","align":"left","baseline":"middle"},
"encoding":{"x":{"datum":0.65,"type":"quantitative","title":null,"scale":{"domain":[-0.51,230.55],"nice":false,"zero":false}},"y":{"datum":76.3,"type":"quantitative","title":null,"scale":{"domain":[20.4,85.1],"nice":false,"zero":false}},"text":{"value":"RSI"}}}
]},
{"width":1493,"height":131,
"layer":[
{"data":{"name":"adx"},"mark":{"type":"line","stroke":"#ff3333","strokeWidth":1},
"encoding":{"x":{"field":"i","type":"quantitative","title":null,"scale":{"domain":[-0.51,230.55],"nice":false,"zero":false},
"axis":{"values":[14.5,35.5,47.5,59.5,74.5,95.5,107.5,119.5,134.5,149.5,164.5,179.8,194.8,209.9,224.9],"grid":true,"ticks":true,"tickSize":4,"labelPadding":1,
"labelExpr":"['23','Feb','7','13','20','Mar','7','13','20','27','Apr','10','17','24','May'][indexof([14.5,35.5,47.5,59.5,74.5,95.5,107.5,119.5,134.5,149.5,164.5,179.8,194.8,209.9,224.9], datum.value)]",
"labelFontWeight":{"condition":{"test":"indexof([35.5,95.5,164.5,224.9], datum.value) >= 0","value":"bold"},"value":"normal"}}},
"y":{"field":"v","type":"quantitative","title":null,"scale":{"domain":[5.45,53.1],"nice":false,"zero":false},"axis":{"orient":"right","values":[20,40],"format":".4f","grid":true,"tickSize":3,"labelPadding":1}}}},
{"data":{"name":"one"},"mark":{"type":"text","font":"Liberation Sans","fontSize":12,"fill":"#4d4d4d","align":"left","baseline":"middle"},
"encoding":{"x":{"datum":0.65,"type":"quantitative","title":null,"scale":{"domain":[-0.51,230.55],"nice":false,"zero":false}},"y":{"datum":46.7,"type":"quantitative","title":null,"scale":{"domain":[5.45,53.1],"nice":false,"zero":false}},"text":{"value":"ADX"}}}
]}
]
}
